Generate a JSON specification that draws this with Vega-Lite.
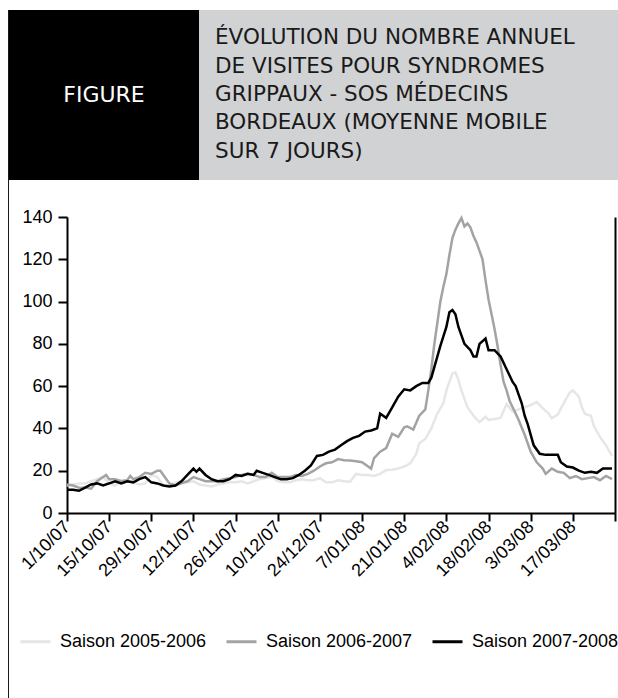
{
  "$schema": "https://vega.github.io/schema/vega-lite/v6.json",
  "padding": {"left": 8, "top": 10, "right": 0, "bottom": 0},
  "background": "white",
  "config": {"view": {"stroke": null}, "font": "Liberation Sans"},
  "datasets": {
    "series": [
      {"saison":"Saison 2005-2006","date":"2007-10-01","visites":13},
      {"saison":"Saison 2005-2006","date":"2007-10-03","visites":13.5},
      {"saison":"Saison 2005-2006","date":"2007-10-05","visites":14},
      {"saison":"Saison 2005-2006","date":"2007-10-07","visites":14},
      {"saison":"Saison 2005-2006","date":"2007-10-09","visites":15},
      {"saison":"Saison 2005-2006","date":"2007-10-11","visites":16},
      {"saison":"Saison 2005-2006","date":"2007-10-13","visites":17},
      {"saison":"Saison 2005-2006","date":"2007-10-15","visites":14},
      {"saison":"Saison 2005-2006","date":"2007-10-17","visites":13},
      {"saison":"Saison 2005-2006","date":"2007-10-19","visites":15.5},
      {"saison":"Saison 2005-2006","date":"2007-10-21","visites":15},
      {"saison":"Saison 2005-2006","date":"2007-10-23","visites":14.5},
      {"saison":"Saison 2005-2006","date":"2007-10-25","visites":13.5},
      {"saison":"Saison 2005-2006","date":"2007-10-27","visites":14},
      {"saison":"Saison 2005-2006","date":"2007-10-29","visites":18},
      {"saison":"Saison 2005-2006","date":"2007-10-31","visites":17},
      {"saison":"Saison 2005-2006","date":"2007-11-02","visites":13},
      {"saison":"Saison 2005-2006","date":"2007-11-04","visites":13},
      {"saison":"Saison 2005-2006","date":"2007-11-06","visites":14.5},
      {"saison":"Saison 2005-2006","date":"2007-11-08","visites":15},
      {"saison":"Saison 2005-2006","date":"2007-11-10","visites":14.5},
      {"saison":"Saison 2005-2006","date":"2007-11-12","visites":15},
      {"saison":"Saison 2005-2006","date":"2007-11-14","visites":13.5},
      {"saison":"Saison 2005-2006","date":"2007-11-16","visites":13},
      {"saison":"Saison 2005-2006","date":"2007-11-18","visites":12.5},
      {"saison":"Saison 2005-2006","date":"2007-11-20","visites":13.5},
      {"saison":"Saison 2005-2006","date":"2007-11-22","visites":14},
      {"saison":"Saison 2005-2006","date":"2007-11-24","visites":14.5},
      {"saison":"Saison 2005-2006","date":"2007-11-26","visites":14.5},
      {"saison":"Saison 2005-2006","date":"2007-11-28","visites":15},
      {"saison":"Saison 2005-2006","date":"2007-11-30","visites":14},
      {"saison":"Saison 2005-2006","date":"2007-12-02","visites":15},
      {"saison":"Saison 2005-2006","date":"2007-12-04","visites":16},
      {"saison":"Saison 2005-2006","date":"2007-12-06","visites":16.5},
      {"saison":"Saison 2005-2006","date":"2007-12-08","visites":17},
      {"saison":"Saison 2005-2006","date":"2007-12-10","visites":15},
      {"saison":"Saison 2005-2006","date":"2007-12-12","visites":14.5},
      {"saison":"Saison 2005-2006","date":"2007-12-14","visites":14.5},
      {"saison":"Saison 2005-2006","date":"2007-12-16","visites":15.5},
      {"saison":"Saison 2005-2006","date":"2007-12-18","visites":16},
      {"saison":"Saison 2005-2006","date":"2007-12-20","visites":15.5},
      {"saison":"Saison 2005-2006","date":"2007-12-22","visites":15.5},
      {"saison":"Saison 2005-2006","date":"2007-12-24","visites":16.5},
      {"saison":"Saison 2005-2006","date":"2007-12-26","visites":14.5},
      {"saison":"Saison 2005-2006","date":"2007-12-28","visites":14.5},
      {"saison":"Saison 2005-2006","date":"2007-12-30","visites":15.5},
      {"saison":"Saison 2005-2006","date":"2008-01-01","visites":15},
      {"saison":"Saison 2005-2006","date":"2008-01-03","visites":14.8},
      {"saison":"Saison 2005-2006","date":"2008-01-05","visites":18.5},
      {"saison":"Saison 2005-2006","date":"2008-01-07","visites":18},
      {"saison":"Saison 2005-2006","date":"2008-01-09","visites":18},
      {"saison":"Saison 2005-2006","date":"2008-01-11","visites":17.5},
      {"saison":"Saison 2005-2006","date":"2008-01-13","visites":18.5},
      {"saison":"Saison 2005-2006","date":"2008-01-15","visites":20.3},
      {"saison":"Saison 2005-2006","date":"2008-01-17","visites":20.5},
      {"saison":"Saison 2005-2006","date":"2008-01-19","visites":21},
      {"saison":"Saison 2005-2006","date":"2008-01-21","visites":22},
      {"saison":"Saison 2005-2006","date":"2008-01-23","visites":23.5},
      {"saison":"Saison 2005-2006","date":"2008-01-25","visites":28},
      {"saison":"Saison 2005-2006","date":"2008-01-26","visites":33},
      {"saison":"Saison 2005-2006","date":"2008-01-28","visites":35},
      {"saison":"Saison 2005-2006","date":"2008-01-30","visites":40},
      {"saison":"Saison 2005-2006","date":"2008-02-01","visites":47},
      {"saison":"Saison 2005-2006","date":"2008-02-03","visites":52},
      {"saison":"Saison 2005-2006","date":"2008-02-04","visites":58},
      {"saison":"Saison 2005-2006","date":"2008-02-05","visites":62},
      {"saison":"Saison 2005-2006","date":"2008-02-06","visites":66},
      {"saison":"Saison 2005-2006","date":"2008-02-07","visites":66.5},
      {"saison":"Saison 2005-2006","date":"2008-02-08","visites":63},
      {"saison":"Saison 2005-2006","date":"2008-02-09","visites":58},
      {"saison":"Saison 2005-2006","date":"2008-02-10","visites":54},
      {"saison":"Saison 2005-2006","date":"2008-02-11","visites":50},
      {"saison":"Saison 2005-2006","date":"2008-02-13","visites":46},
      {"saison":"Saison 2005-2006","date":"2008-02-15","visites":43},
      {"saison":"Saison 2005-2006","date":"2008-02-17","visites":45.5},
      {"saison":"Saison 2005-2006","date":"2008-02-18","visites":44},
      {"saison":"Saison 2005-2006","date":"2008-02-20","visites":44.5},
      {"saison":"Saison 2005-2006","date":"2008-02-22","visites":45},
      {"saison":"Saison 2005-2006","date":"2008-02-24","visites":51.5},
      {"saison":"Saison 2005-2006","date":"2008-02-26","visites":48},
      {"saison":"Saison 2005-2006","date":"2008-02-28","visites":49},
      {"saison":"Saison 2005-2006","date":"2008-03-01","visites":50},
      {"saison":"Saison 2005-2006","date":"2008-03-03","visites":51},
      {"saison":"Saison 2005-2006","date":"2008-03-05","visites":52.5},
      {"saison":"Saison 2005-2006","date":"2008-03-07","visites":49.5},
      {"saison":"Saison 2005-2006","date":"2008-03-09","visites":47},
      {"saison":"Saison 2005-2006","date":"2008-03-10","visites":44.8},
      {"saison":"Saison 2005-2006","date":"2008-03-12","visites":46.5},
      {"saison":"Saison 2005-2006","date":"2008-03-14","visites":52},
      {"saison":"Saison 2005-2006","date":"2008-03-16","visites":57},
      {"saison":"Saison 2005-2006","date":"2008-03-17","visites":58},
      {"saison":"Saison 2005-2006","date":"2008-03-19","visites":55},
      {"saison":"Saison 2005-2006","date":"2008-03-20","visites":50},
      {"saison":"Saison 2005-2006","date":"2008-03-21","visites":47},
      {"saison":"Saison 2005-2006","date":"2008-03-23","visites":46},
      {"saison":"Saison 2005-2006","date":"2008-03-24","visites":41},
      {"saison":"Saison 2005-2006","date":"2008-03-26","visites":36},
      {"saison":"Saison 2005-2006","date":"2008-03-28","visites":32},
      {"saison":"Saison 2005-2006","date":"2008-03-30","visites":27},

      {"saison":"Saison 2006-2007","date":"2007-10-01","visites":13.5},
      {"saison":"Saison 2006-2007","date":"2007-10-03","visites":13},
      {"saison":"Saison 2006-2007","date":"2007-10-05","visites":12},
      {"saison":"Saison 2006-2007","date":"2007-10-07","visites":12},
      {"saison":"Saison 2006-2007","date":"2007-10-09","visites":11.5},
      {"saison":"Saison 2006-2007","date":"2007-10-11","visites":15},
      {"saison":"Saison 2006-2007","date":"2007-10-13","visites":17},
      {"saison":"Saison 2006-2007","date":"2007-10-14","visites":18},
      {"saison":"Saison 2006-2007","date":"2007-10-15","visites":16},
      {"saison":"Saison 2006-2007","date":"2007-10-17","visites":16},
      {"saison":"Saison 2006-2007","date":"2007-10-19","visites":15},
      {"saison":"Saison 2006-2007","date":"2007-10-21","visites":15.5},
      {"saison":"Saison 2006-2007","date":"2007-10-22","visites":17.5},
      {"saison":"Saison 2006-2007","date":"2007-10-23","visites":16},
      {"saison":"Saison 2006-2007","date":"2007-10-25","visites":17},
      {"saison":"Saison 2006-2007","date":"2007-10-27","visites":19},
      {"saison":"Saison 2006-2007","date":"2007-10-29","visites":18.5},
      {"saison":"Saison 2006-2007","date":"2007-10-31","visites":20},
      {"saison":"Saison 2006-2007","date":"2007-11-01","visites":20},
      {"saison":"Saison 2006-2007","date":"2007-11-02","visites":18},
      {"saison":"Saison 2006-2007","date":"2007-11-04","visites":14},
      {"saison":"Saison 2006-2007","date":"2007-11-06","visites":13},
      {"saison":"Saison 2006-2007","date":"2007-11-08","visites":14},
      {"saison":"Saison 2006-2007","date":"2007-11-10","visites":15},
      {"saison":"Saison 2006-2007","date":"2007-11-12","visites":17},
      {"saison":"Saison 2006-2007","date":"2007-11-14","visites":16},
      {"saison":"Saison 2006-2007","date":"2007-11-16","visites":15},
      {"saison":"Saison 2006-2007","date":"2007-11-18","visites":15},
      {"saison":"Saison 2006-2007","date":"2007-11-20","visites":15},
      {"saison":"Saison 2006-2007","date":"2007-11-22","visites":16},
      {"saison":"Saison 2006-2007","date":"2007-11-24","visites":16.5},
      {"saison":"Saison 2006-2007","date":"2007-11-26","visites":17},
      {"saison":"Saison 2006-2007","date":"2007-11-28","visites":18},
      {"saison":"Saison 2006-2007","date":"2007-11-30","visites":18.5},
      {"saison":"Saison 2006-2007","date":"2007-12-02","visites":18},
      {"saison":"Saison 2006-2007","date":"2007-12-04","visites":17},
      {"saison":"Saison 2006-2007","date":"2007-12-06","visites":17},
      {"saison":"Saison 2006-2007","date":"2007-12-08","visites":19},
      {"saison":"Saison 2006-2007","date":"2007-12-10","visites":17},
      {"saison":"Saison 2006-2007","date":"2007-12-12","visites":17},
      {"saison":"Saison 2006-2007","date":"2007-12-14","visites":17},
      {"saison":"Saison 2006-2007","date":"2007-12-16","visites":18},
      {"saison":"Saison 2006-2007","date":"2007-12-18","visites":17.5},
      {"saison":"Saison 2006-2007","date":"2007-12-20","visites":18.5},
      {"saison":"Saison 2006-2007","date":"2007-12-22","visites":20},
      {"saison":"Saison 2006-2007","date":"2007-12-24","visites":22},
      {"saison":"Saison 2006-2007","date":"2007-12-26","visites":23.5},
      {"saison":"Saison 2006-2007","date":"2007-12-28","visites":24},
      {"saison":"Saison 2006-2007","date":"2007-12-30","visites":25.5},
      {"saison":"Saison 2006-2007","date":"2008-01-01","visites":25},
      {"saison":"Saison 2006-2007","date":"2008-01-03","visites":24.8},
      {"saison":"Saison 2006-2007","date":"2008-01-05","visites":24.5},
      {"saison":"Saison 2006-2007","date":"2008-01-07","visites":24},
      {"saison":"Saison 2006-2007","date":"2008-01-09","visites":22},
      {"saison":"Saison 2006-2007","date":"2008-01-10","visites":21},
      {"saison":"Saison 2006-2007","date":"2008-01-11","visites":26},
      {"saison":"Saison 2006-2007","date":"2008-01-13","visites":29},
      {"saison":"Saison 2006-2007","date":"2008-01-15","visites":30.7},
      {"saison":"Saison 2006-2007","date":"2008-01-17","visites":37.5},
      {"saison":"Saison 2006-2007","date":"2008-01-19","visites":36},
      {"saison":"Saison 2006-2007","date":"2008-01-21","visites":40.5},
      {"saison":"Saison 2006-2007","date":"2008-01-22","visites":41},
      {"saison":"Saison 2006-2007","date":"2008-01-24","visites":39.5},
      {"saison":"Saison 2006-2007","date":"2008-01-26","visites":46},
      {"saison":"Saison 2006-2007","date":"2008-01-28","visites":49},
      {"saison":"Saison 2006-2007","date":"2008-01-29","visites":58},
      {"saison":"Saison 2006-2007","date":"2008-01-30","visites":68},
      {"saison":"Saison 2006-2007","date":"2008-01-31","visites":80},
      {"saison":"Saison 2006-2007","date":"2008-02-01","visites":90},
      {"saison":"Saison 2006-2007","date":"2008-02-02","visites":100},
      {"saison":"Saison 2006-2007","date":"2008-02-03","visites":107},
      {"saison":"Saison 2006-2007","date":"2008-02-04","visites":113},
      {"saison":"Saison 2006-2007","date":"2008-02-05","visites":122},
      {"saison":"Saison 2006-2007","date":"2008-02-06","visites":130},
      {"saison":"Saison 2006-2007","date":"2008-02-07","visites":134},
      {"saison":"Saison 2006-2007","date":"2008-02-08","visites":137},
      {"saison":"Saison 2006-2007","date":"2008-02-09","visites":139.5},
      {"saison":"Saison 2006-2007","date":"2008-02-10","visites":135.5},
      {"saison":"Saison 2006-2007","date":"2008-02-11","visites":137},
      {"saison":"Saison 2006-2007","date":"2008-02-12","visites":135},
      {"saison":"Saison 2006-2007","date":"2008-02-13","visites":131},
      {"saison":"Saison 2006-2007","date":"2008-02-14","visites":128},
      {"saison":"Saison 2006-2007","date":"2008-02-15","visites":124},
      {"saison":"Saison 2006-2007","date":"2008-02-16","visites":120},
      {"saison":"Saison 2006-2007","date":"2008-02-17","visites":110},
      {"saison":"Saison 2006-2007","date":"2008-02-18","visites":101},
      {"saison":"Saison 2006-2007","date":"2008-02-19","visites":94},
      {"saison":"Saison 2006-2007","date":"2008-02-20","visites":87},
      {"saison":"Saison 2006-2007","date":"2008-02-21","visites":79},
      {"saison":"Saison 2006-2007","date":"2008-02-22","visites":70},
      {"saison":"Saison 2006-2007","date":"2008-02-23","visites":62},
      {"saison":"Saison 2006-2007","date":"2008-02-24","visites":58},
      {"saison":"Saison 2006-2007","date":"2008-02-25","visites":53},
      {"saison":"Saison 2006-2007","date":"2008-02-26","visites":50},
      {"saison":"Saison 2006-2007","date":"2008-02-28","visites":44},
      {"saison":"Saison 2006-2007","date":"2008-03-01","visites":37},
      {"saison":"Saison 2006-2007","date":"2008-03-03","visites":29},
      {"saison":"Saison 2006-2007","date":"2008-03-05","visites":24},
      {"saison":"Saison 2006-2007","date":"2008-03-07","visites":21},
      {"saison":"Saison 2006-2007","date":"2008-03-08","visites":18.5},
      {"saison":"Saison 2006-2007","date":"2008-03-10","visites":21},
      {"saison":"Saison 2006-2007","date":"2008-03-12","visites":19.5},
      {"saison":"Saison 2006-2007","date":"2008-03-14","visites":19},
      {"saison":"Saison 2006-2007","date":"2008-03-16","visites":16.5},
      {"saison":"Saison 2006-2007","date":"2008-03-18","visites":17.5},
      {"saison":"Saison 2006-2007","date":"2008-03-20","visites":16},
      {"saison":"Saison 2006-2007","date":"2008-03-22","visites":16.5},
      {"saison":"Saison 2006-2007","date":"2008-03-24","visites":17},
      {"saison":"Saison 2006-2007","date":"2008-03-26","visites":15.5},
      {"saison":"Saison 2006-2007","date":"2008-03-28","visites":17.5},
      {"saison":"Saison 2006-2007","date":"2008-03-30","visites":16},

      {"saison":"Saison 2007-2008","date":"2007-10-01","visites":11},
      {"saison":"Saison 2007-2008","date":"2007-10-03","visites":11},
      {"saison":"Saison 2007-2008","date":"2007-10-05","visites":10.5},
      {"saison":"Saison 2007-2008","date":"2007-10-07","visites":12},
      {"saison":"Saison 2007-2008","date":"2007-10-09","visites":13.5},
      {"saison":"Saison 2007-2008","date":"2007-10-11","visites":14},
      {"saison":"Saison 2007-2008","date":"2007-10-13","visites":13},
      {"saison":"Saison 2007-2008","date":"2007-10-15","visites":14},
      {"saison":"Saison 2007-2008","date":"2007-10-17","visites":15},
      {"saison":"Saison 2007-2008","date":"2007-10-19","visites":14},
      {"saison":"Saison 2007-2008","date":"2007-10-21","visites":15},
      {"saison":"Saison 2007-2008","date":"2007-10-23","visites":14.5},
      {"saison":"Saison 2007-2008","date":"2007-10-25","visites":16},
      {"saison":"Saison 2007-2008","date":"2007-10-27","visites":17},
      {"saison":"Saison 2007-2008","date":"2007-10-29","visites":14.5},
      {"saison":"Saison 2007-2008","date":"2007-10-31","visites":14},
      {"saison":"Saison 2007-2008","date":"2007-11-02","visites":13},
      {"saison":"Saison 2007-2008","date":"2007-11-04","visites":12.5},
      {"saison":"Saison 2007-2008","date":"2007-11-06","visites":13},
      {"saison":"Saison 2007-2008","date":"2007-11-08","visites":15},
      {"saison":"Saison 2007-2008","date":"2007-11-10","visites":18},
      {"saison":"Saison 2007-2008","date":"2007-11-12","visites":21},
      {"saison":"Saison 2007-2008","date":"2007-11-13","visites":19.5},
      {"saison":"Saison 2007-2008","date":"2007-11-14","visites":21},
      {"saison":"Saison 2007-2008","date":"2007-11-16","visites":18},
      {"saison":"Saison 2007-2008","date":"2007-11-18","visites":16},
      {"saison":"Saison 2007-2008","date":"2007-11-20","visites":15},
      {"saison":"Saison 2007-2008","date":"2007-11-22","visites":15},
      {"saison":"Saison 2007-2008","date":"2007-11-24","visites":16},
      {"saison":"Saison 2007-2008","date":"2007-11-26","visites":18},
      {"saison":"Saison 2007-2008","date":"2007-11-28","visites":17.5},
      {"saison":"Saison 2007-2008","date":"2007-11-30","visites":18.5},
      {"saison":"Saison 2007-2008","date":"2007-12-02","visites":18},
      {"saison":"Saison 2007-2008","date":"2007-12-03","visites":20},
      {"saison":"Saison 2007-2008","date":"2007-12-05","visites":19},
      {"saison":"Saison 2007-2008","date":"2007-12-07","visites":18},
      {"saison":"Saison 2007-2008","date":"2007-12-09","visites":17},
      {"saison":"Saison 2007-2008","date":"2007-12-11","visites":16},
      {"saison":"Saison 2007-2008","date":"2007-12-13","visites":16},
      {"saison":"Saison 2007-2008","date":"2007-12-15","visites":16.5},
      {"saison":"Saison 2007-2008","date":"2007-12-17","visites":18},
      {"saison":"Saison 2007-2008","date":"2007-12-19","visites":20},
      {"saison":"Saison 2007-2008","date":"2007-12-21","visites":22.5},
      {"saison":"Saison 2007-2008","date":"2007-12-23","visites":27},
      {"saison":"Saison 2007-2008","date":"2007-12-25","visites":27.5},
      {"saison":"Saison 2007-2008","date":"2007-12-27","visites":29},
      {"saison":"Saison 2007-2008","date":"2007-12-29","visites":30},
      {"saison":"Saison 2007-2008","date":"2007-12-31","visites":32},
      {"saison":"Saison 2007-2008","date":"2008-01-02","visites":34},
      {"saison":"Saison 2007-2008","date":"2008-01-04","visites":35.5},
      {"saison":"Saison 2007-2008","date":"2008-01-06","visites":36.5},
      {"saison":"Saison 2007-2008","date":"2008-01-08","visites":38.5},
      {"saison":"Saison 2007-2008","date":"2008-01-10","visites":39},
      {"saison":"Saison 2007-2008","date":"2008-01-12","visites":40},
      {"saison":"Saison 2007-2008","date":"2008-01-13","visites":47},
      {"saison":"Saison 2007-2008","date":"2008-01-14","visites":46},
      {"saison":"Saison 2007-2008","date":"2008-01-15","visites":45},
      {"saison":"Saison 2007-2008","date":"2008-01-17","visites":50},
      {"saison":"Saison 2007-2008","date":"2008-01-19","visites":55},
      {"saison":"Saison 2007-2008","date":"2008-01-21","visites":58.5},
      {"saison":"Saison 2007-2008","date":"2008-01-23","visites":58},
      {"saison":"Saison 2007-2008","date":"2008-01-25","visites":60},
      {"saison":"Saison 2007-2008","date":"2008-01-27","visites":61.5},
      {"saison":"Saison 2007-2008","date":"2008-01-29","visites":61.5},
      {"saison":"Saison 2007-2008","date":"2008-01-30","visites":64},
      {"saison":"Saison 2007-2008","date":"2008-01-31","visites":69},
      {"saison":"Saison 2007-2008","date":"2008-02-02","visites":79},
      {"saison":"Saison 2007-2008","date":"2008-02-04","visites":88},
      {"saison":"Saison 2007-2008","date":"2008-02-05","visites":95},
      {"saison":"Saison 2007-2008","date":"2008-02-06","visites":96},
      {"saison":"Saison 2007-2008","date":"2008-02-07","visites":94},
      {"saison":"Saison 2007-2008","date":"2008-02-08","visites":88},
      {"saison":"Saison 2007-2008","date":"2008-02-09","visites":84},
      {"saison":"Saison 2007-2008","date":"2008-02-10","visites":80},
      {"saison":"Saison 2007-2008","date":"2008-02-12","visites":77},
      {"saison":"Saison 2007-2008","date":"2008-02-13","visites":74},
      {"saison":"Saison 2007-2008","date":"2008-02-14","visites":74},
      {"saison":"Saison 2007-2008","date":"2008-02-15","visites":80},
      {"saison":"Saison 2007-2008","date":"2008-02-17","visites":82.5},
      {"saison":"Saison 2007-2008","date":"2008-02-18","visites":77},
      {"saison":"Saison 2007-2008","date":"2008-02-20","visites":77},
      {"saison":"Saison 2007-2008","date":"2008-02-22","visites":74},
      {"saison":"Saison 2007-2008","date":"2008-02-24","visites":68},
      {"saison":"Saison 2007-2008","date":"2008-02-26","visites":62},
      {"saison":"Saison 2007-2008","date":"2008-02-27","visites":60},
      {"saison":"Saison 2007-2008","date":"2008-02-28","visites":56},
      {"saison":"Saison 2007-2008","date":"2008-02-29","visites":52},
      {"saison":"Saison 2007-2008","date":"2008-03-01","visites":46},
      {"saison":"Saison 2007-2008","date":"2008-03-02","visites":42},
      {"saison":"Saison 2007-2008","date":"2008-03-04","visites":32},
      {"saison":"Saison 2007-2008","date":"2008-03-06","visites":28},
      {"saison":"Saison 2007-2008","date":"2008-03-08","visites":27.5},
      {"saison":"Saison 2007-2008","date":"2008-03-10","visites":27.5},
      {"saison":"Saison 2007-2008","date":"2008-03-12","visites":27.5},
      {"saison":"Saison 2007-2008","date":"2008-03-13","visites":24},
      {"saison":"Saison 2007-2008","date":"2008-03-15","visites":22},
      {"saison":"Saison 2007-2008","date":"2008-03-17","visites":21.5},
      {"saison":"Saison 2007-2008","date":"2008-03-19","visites":20},
      {"saison":"Saison 2007-2008","date":"2008-03-21","visites":19},
      {"saison":"Saison 2007-2008","date":"2008-03-23","visites":19.5},
      {"saison":"Saison 2007-2008","date":"2008-03-25","visites":19},
      {"saison":"Saison 2007-2008","date":"2008-03-27","visites":21},
      {"saison":"Saison 2007-2008","date":"2008-03-30","visites":21}
    ]
  },
  "spacing": 0,
  "hconcat": [
    {
      "width": 1,
      "height": 688,
      "data": {"values": [{}]},
      "mark": {"type": "rect", "fill": "#1a1a1a"}
    },
    {
      "spacing": 28,
      "vconcat": [
        {
          "spacing": 0,
          "hconcat": [
            {
              "width": 190,
              "height": 170,
              "view": {"fill": "#000000", "stroke": null},
              "data": {"values": [{"t": "FIGURE"}]},
              "mark": {"type": "text", "color": "#ffffff", "font": "DejaVu Sans", "fontSize": 22, "baseline": "middle", "align": "center"},
              "encoding": {"text": {"field": "t", "type": "nominal"}}
            },
            {
              "width": 419,
              "height": 170,
              "view": {"fill": "#d1d2d4", "stroke": null},
              "data": {"values": [
                {"i": 0, "t": "ÉVOLUTION DU NOMBRE ANNUEL"},
                {"i": 1, "t": "DE VISITES POUR SYNDROMES"},
                {"i": 2, "t": "GRIPPAUX - SOS MÉDECINS"},
                {"i": 3, "t": "BORDEAUX (MOYENNE MOBILE"},
                {"i": 4, "t": "SUR 7 JOURS)"}
              ]},
              "mark": {"type": "text", "align": "left", "baseline": "middle", "dx": -193.5, "font": "DejaVu Sans", "fontSize": 21.5, "color": "#1a1a1a"},
              "encoding": {
                "y": {"field": "i", "type": "ordinal", "axis": null, "scale": {"type": "point", "padding": 1.036}},
                "text": {"field": "t", "type": "nominal"}
              }
            }
          ]
        },
        {
          "spacing": 0,
          "hconcat": [
            {
              "width": 1,
              "height": 1,
              "data": {"values": [{}]},
              "mark": {"type": "rect", "opacity": 0}
            },
            {
              "width": 548,
              "height": 296,
              "data": {"name": "series"},
              "layer": [
                {
                  "mark": {"type": "line", "strokeWidth": 2.5},
                  "encoding": {
                    "x": {
                      "field": "date",
                      "type": "temporal",
                      "scale": {"type": "utc", "domain": [{"year": 2007, "month": 10, "date": 1, "utc": true}, {"year": 2008, "month": 3, "date": 31, "utc": true}]},
                      "axis": {
                        "title": null,
                        "grid": false,
                        "values": [
                          {"year": 2007, "month": 10, "date": 1, "utc": true},
                          {"year": 2007, "month": 10, "date": 15, "utc": true},
                          {"year": 2007, "month": 10, "date": 29, "utc": true},
                          {"year": 2007, "month": 11, "date": 12, "utc": true},
                          {"year": 2007, "month": 11, "date": 26, "utc": true},
                          {"year": 2007, "month": 12, "date": 10, "utc": true},
                          {"year": 2007, "month": 12, "date": 24, "utc": true},
                          {"year": 2008, "month": 1, "date": 7, "utc": true},
                          {"year": 2008, "month": 1, "date": 21, "utc": true},
                          {"year": 2008, "month": 2, "date": 4, "utc": true},
                          {"year": 2008, "month": 2, "date": 18, "utc": true},
                          {"year": 2008, "month": 3, "date": 3, "utc": true},
                          {"year": 2008, "month": 3, "date": 17, "utc": true},
                          {"year": 2008, "month": 3, "date": 31, "utc": true}
                        ],
                        "labelExpr": "utcdate(datum.value) == 31 && utcmonth(datum.value) == 2 ? '' : utcFormat(datum.value, '%-d/%m/%y')",
                        "labelAngle": -45,
                        "labelAlign": "right",
                        "labelBaseline": "middle",
                        "labelFontSize": 18,
                        "labelColor": "#000000",
                        "labelPadding": 3,
                        "labelOverlap": false,
                        "labelFlush": false,
                        "labelBound": false,
                        "tickSize": 8,
                        "tickWidth": 2,
                        "tickColor": "#000000",
                        "domainColor": "#000000",
                        "domainWidth": 2
                      }
                    },
                    "y": {
                      "field": "visites",
                      "type": "quantitative",
                      "scale": {"domain": [0, 140], "nice": false},
                      "axis": {
                        "title": null,
                        "grid": false,
                        "values": [0, 20, 40, 60, 80, 100, 120, 140],
                        "labelFontSize": 18,
                        "labelColor": "#000000",
                        "labelPadding": 6,
                        "tickSize": 9,
                        "tickWidth": 2,
                        "tickColor": "#000000",
                        "domainColor": "#000000",
                        "domainWidth": 2,
                        "minExtent": 57,
                        "maxExtent": 57
                      }
                    },
                    "color": {
                      "field": "saison",
                      "type": "nominal",
                      "scale": {"domain": ["Saison 2005-2006", "Saison 2006-2007", "Saison 2007-2008"], "range": ["#e6e6e6", "#a3a3a3", "#000000"]},
                      "legend": {
                        "title": null,
                        "orient": "none",
                        "legendX": 11,
                        "legendY": 615,
                        "direction": "horizontal",
                        "symbolType": "stroke",
                        "symbolSize": 900,
                        "symbolStrokeWidth": 3,
                        "labelFontSize": 18,
                        "labelColor": "#000000",
                        "labelOffset": 8,
                        "columnPadding": 13
                      }
                    }
                  }
                },
                {
                  "mark": {"type": "point", "opacity": 0},
                  "encoding": {
                    "y": {
                      "field": "visites",
                      "type": "quantitative",
                      "axis": {"orient": "right", "title": null, "grid": false, "labels": false, "ticks": false, "domainColor": "#000000", "domainWidth": 2, "minExtent": 0}
                    }
                  }
                }
              ],
              "resolve": {"axis": {"y": "independent"}}
            }
          ]
        }
      ]
    }
  ]
}
